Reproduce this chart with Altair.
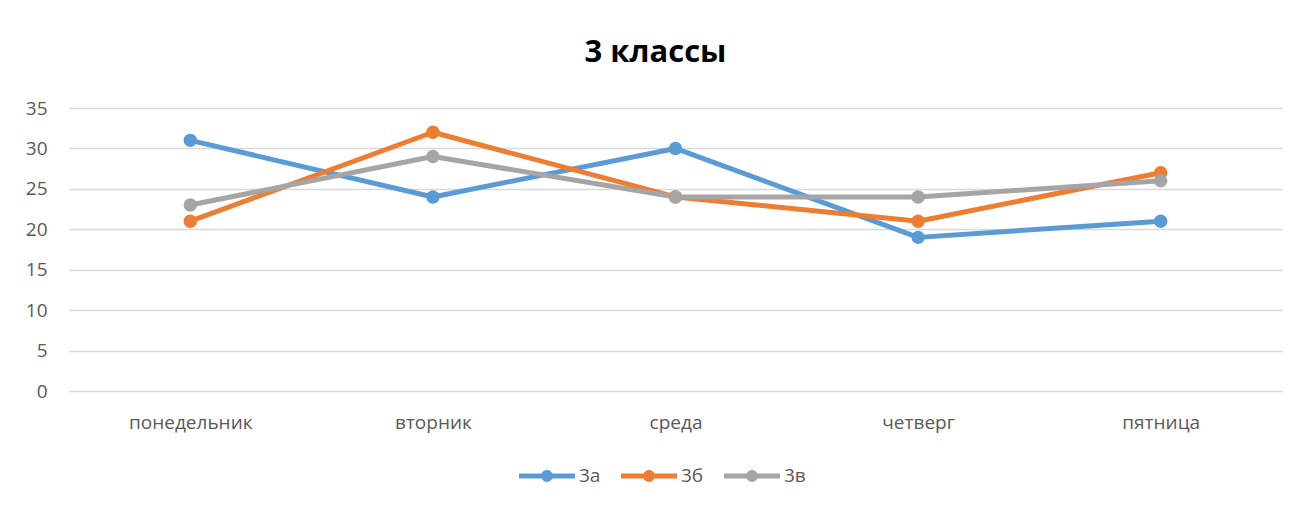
import altair as alt
import pandas as pd

days = ["понедельник", "вторник", "среда", "четверг", "пятница"]
series = ["3а", "3б", "3в"]
v_3a = [31, 24, 30, 19, 21]
v_3b = [21, 32, 24, 21, 27]
v_3v = [23, 29, 24, 24, 26]
colors = ["#5B9BD5", "#ED7D31", "#A5A5A5"]
y_ticks = [0, 5, 10, 15, 20, 25, 30, 35]

rows = []
for s, vals in zip(series, [v_3a, v_3b, v_3v]):
    for i, (d, v) in enumerate(zip(days, vals)):
        rows.append({"day": d, "series": s, "value": v, "order": i})
df = pd.DataFrame(rows)

FONT = "Open Sans"

sym = ("M -1 -0.085 L 1 -0.085 L 1 0.085 L -1 0.085 Z "
       "M -0.21 0 A 0.21 0.21 0 1 1 0.21 0 A 0.21 0.21 0 1 1 -0.21 0 Z")

x = alt.X("day:N", sort=days, title=None,
          scale=alt.Scale(type="point", padding=0.5),
          axis=alt.Axis(labelAngle=0, domain=False, ticks=False, grid=False,
                        labelFontSize=19, labelColor="#595959", labelFont=FONT,
                        labelPadding=22))
y = alt.Y("value:Q", title=None,
          scale=alt.Scale(domain=[0, 35], nice=False),
          axis=alt.Axis(values=y_ticks, domain=False, ticks=False,
                        gridColor="#D9D9D9", gridWidth=1.5,
                        labelFontSize=19, labelColor="#595959", labelFont=FONT,
                        labelPadding=22))
color_scale = alt.Scale(domain=series, range=colors)

legend = alt.Legend(title=None, orient="none", direction="horizontal",
                    legendX=450, legendY=340,
                    symbolType=sym, symbolSize=3136,
                    symbolStrokeWidth=0, symbolOpacity=1,
                    labelFontSize=19, labelColor="#595959",
                    labelFont=FONT, labelOffset=4,
                    columnPadding=20)

lines = alt.Chart(df).mark_line(strokeWidth=5, strokeCap="round", strokeJoin="round").encode(
    x=x, y=y,
    color=alt.Color("series:N", scale=color_scale, legend=legend),
    order="order:Q",
)
points = alt.Chart(df).mark_point(filled=True, size=180, opacity=1).encode(
    x=x, y=y,
    color=alt.Color("series:N", scale=color_scale, legend=legend),
)

chart = alt.layer(lines, points).properties(
    width=1213, height=283,
    background="white",
    title=alt.TitleParams("3 классы", fontSize=31, font=FONT, fontWeight="bold",
                          color="#000000", anchor="middle", offset=30, dx=-20),
    padding={"left": 61, "top": 100, "right": 18, "bottom": 108},
    autosize=alt.AutoSizeParams(type="none"),
).configure_view(stroke=None)

chart.save("out.html", embed_options={"renderer": "svg", "actions": False})
